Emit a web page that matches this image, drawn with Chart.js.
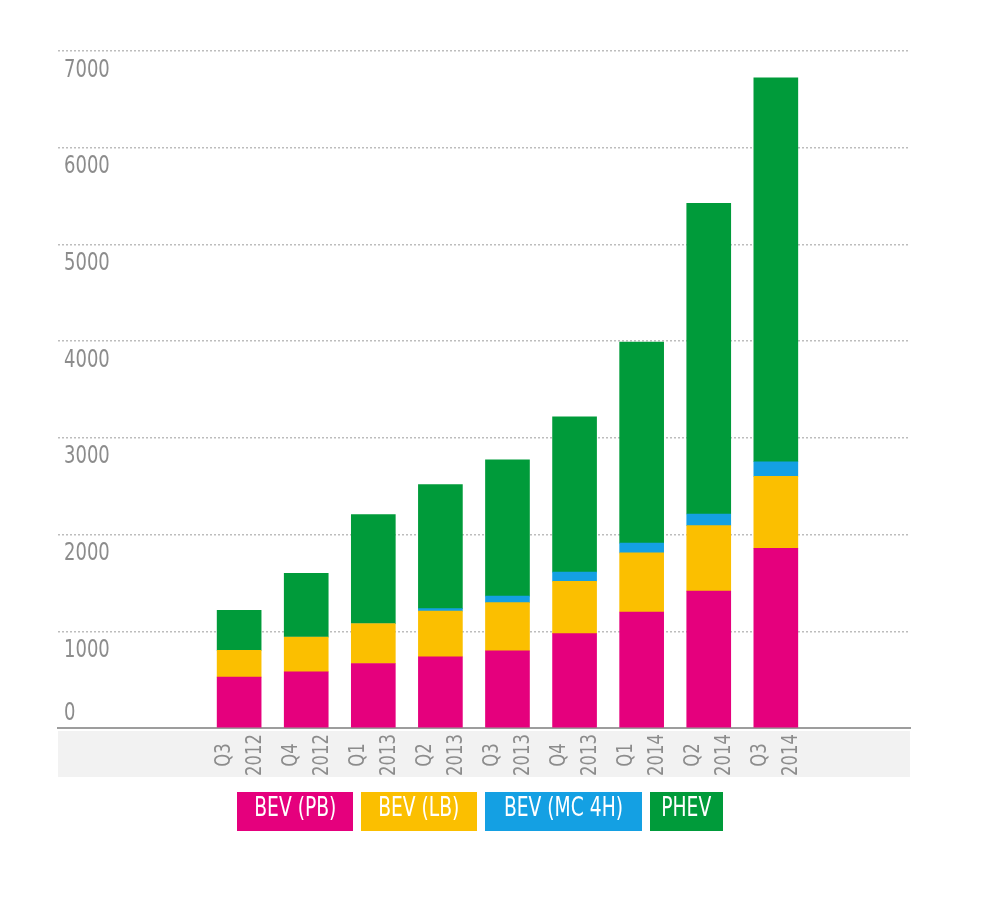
<!DOCTYPE html>
<html>
<head>
<meta charset="utf-8">
<script src="https://cdn.jsdelivr.net/npm/chart.js@4.4.1/dist/chart.umd.min.js"></script>
<style>
  body { margin: 0; background: #fff; }
  #wrap { position: relative; width: 992px; height: 914px; }
  #legend { position: absolute; left: 237px; top: 792px; display: flex; gap: 8px; }
  #legend span {
    display: block; height: 39px; line-height: 38px; text-align: center; overflow: hidden;
    color: #fff; font: 26px 'DejaVu Sans Condensed', 'DejaVu Sans', sans-serif;
  }
  #legend span b { display: inline-block; font-weight: normal; transform: scaleX(0.8); white-space: nowrap; }
</style>
</head>
<body>
<div id="wrap">
  <canvas id="myChart" width="992" height="914"></canvas>
  <div id="legend"></div>
</div>
<script>
// quarters on the x axis (two lines each)
const quartals = ['Q3', 'Q4', 'Q1', 'Q2', 'Q3', 'Q4', 'Q1', 'Q2', 'Q3']
const jahre = ['2012', '2012', '2013', '2013', '2013', '2013', '2014', '2014', '2014']

// stacked series
const bev_pb = [526, 580, 667, 735, 797, 976, 1199, 1416, 1859]
const bev_lb = [278, 361, 412, 474, 499, 540, 612, 677, 742]
const bev_mc = [0, 0, 0, 25, 68, 96, 100, 120, 152]
const phev = [413, 657, 1127, 1282, 1409, 1605, 2079, 3213, 3969]

const y_ticks = [0, 1000, 2000, 3000, 4000, 5000, 6000, 7000]

const serien = [
  { label: 'BEV (PB)', werte: bev_pb, farbe: '#e5007d', breite: 116 },
  { label: 'BEV (LB)', werte: bev_lb, farbe: '#fbbf00', breite: 116 },
  { label: 'BEV (MC 4H)', werte: bev_mc, farbe: '#14a0e3', breite: 157 },
  { label: 'PHEV', werte: phev, farbe: '#009b3a', breite: 73 }
]

function punkte(werte) {
  return werte.map(function (v, i) { return { x: i, y: v } })
}

const datasets = serien.map(function (s) {
  return {
    label: s.label,
    data: punkte(s.werte),
    backgroundColor: s.farbe,
    borderWidth: 0,
    barThickness: 44
  }
})

const schrift = "'DejaVu Sans Condensed', 'DejaVu Sans', sans-serif"

// grey band under the axis, y labels under their grid lines, rotated x labels
const achsenPlugin = {
  id: 'achsen',
  beforeDraw(chart) {
    const c = chart.ctx, a = chart.chartArea
    c.save()
    c.fillStyle = '#f2f2f2'
    c.fillRect(a.left, a.bottom + 3, a.right - a.left, 46)
    c.restore()
  },
  afterDraw(chart) {
    const c = chart.ctx, a = chart.chartArea
    const ys = chart.scales.y, xs = chart.scales.x
    c.save()
    c.fillStyle = '#8c8c8c'
    c.font = '25px ' + schrift
    c.textAlign = 'left'
    c.textBaseline = 'middle'
    y_ticks.forEach(function (v) {
      const py = ys.getPixelForValue(v)
      c.save()
      c.translate(a.left + 6, v === 0 ? py - 15 : py + 19)
      c.scale(0.8, 1)
      c.fillText(String(v), 0, 0)
      c.restore()
    })
    c.font = '21px ' + schrift
    c.textAlign = 'center'
    quartals.forEach(function (q, i) {
      const px = xs.getPixelForValue(i)
      c.save()
      c.translate(px, a.bottom + 27)
      c.rotate(-Math.PI / 2)
      c.scale(0.87, 1)
      c.fillText(q, 0, -15)
      c.fillText(jahre[i], 0, 16)
      c.restore()
    })
    c.restore()
  }
}

const ctx = document.getElementById('myChart')

const config = {
  type: 'bar',
  data: { datasets: datasets },
  options: {
    responsive: false,
    animation: false,
    layout: { padding: { left: 58, right: 82, top: 51, bottom: 186 } },
    plugins: {
      legend: { display: false },
      tooltip: { enabled: false }
    },
    scales: {
      x: {
        type: 'linear',
        stacked: true,
        offset: false,
        min: -2.7,
        max: 10,
        ticks: { display: false },
        grid: { display: false, drawTicks: false, offset: false },
        border: { display: true, color: '#9d9d9d', width: 2 }
      },
      y: {
        stacked: true,
        min: 0,
        max: 7000,
        ticks: { display: false, stepSize: 1000 },
        grid: {
          drawTicks: false,
          lineWidth: 1.5,
          color: function (c) { return c.tick && c.tick.value === 0 ? 'rgba(0,0,0,0)' : '#bdbdbd' }
        },
        border: { display: false, dash: [2, 2] }
      }
    }
  },
  plugins: [achsenPlugin]
}

const myChart = new Chart(ctx, config)

// legend boxes with the series colours
const legende = document.getElementById('legend')
serien.forEach(function (s) {
  const el = document.createElement('span')
  const t = document.createElement('b')
  t.textContent = s.label
  el.appendChild(t)
  el.style.background = s.farbe
  el.style.width = s.breite + 'px'
  legende.appendChild(el)
})
</script>
</body>
</html>
